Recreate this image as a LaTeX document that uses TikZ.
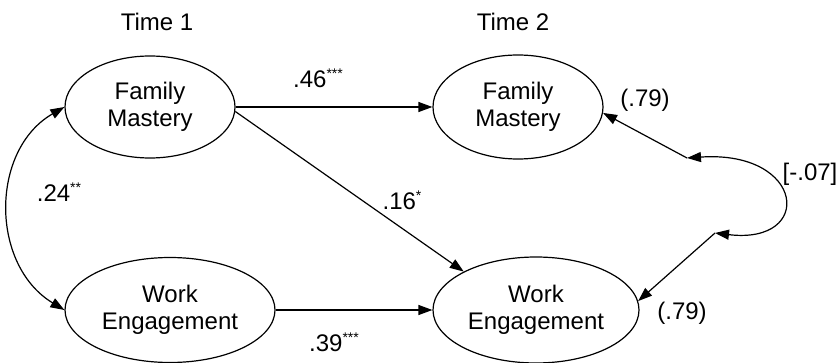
\documentclass[tikz,border=0pt]{standalone}
\usepackage{fontspec}
\setmainfont{Liberation Sans}
\usetikzlibrary{shapes.geometric,arrows.meta}
\newcommand{\sigstars}[1]{\raisebox{0.36em}{\fontsize{14}{14}\selectfont #1}}
\begin{document}
\begin{tikzpicture}[x=1pt,y=-1pt,
  latent/.style={draw,ellipse,line width=1.2pt,inner sep=0pt,align=center,font=\fontsize{24}{27}\selectfont},
  lbl/.style={inner sep=0pt,font=\fontsize{24}{27}\selectfont},
  path/.style={line width=1.2pt,-{Triangle[length=14pt,width=10pt]}},
  bipath/.style={line width=1.2pt,{Triangle[length=14pt,width=10pt]}-{Triangle[length=14pt,width=10pt]}}]
\useasboundingbox[fill=white] (0,0) rectangle (837,363);
\node[lbl] (t1) at (157,22) {Time 1};
\node[lbl] (t2) at (513,22) {Time 2};
\node[latent,minimum width=170pt,minimum height=102pt] (FM1) at (150,107) {Family\\Mastery};
\node[latent,minimum width=210pt,minimum height=105pt] (WE1) at (170,310) {Work\\Engagement};
\node[latent,minimum width=170pt,minimum height=104pt] (FM2) at (518,107) {Family\\Mastery};
\node[latent,minimum width=206pt,minimum height=106pt] (WE2) at (536,310) {Work\\Engagement};
\coordinate (P1) at (687,158);
\coordinate (P2) at (715,233);
\draw[path] (FM1.east) -- (FM2.west);
\draw[path] (WE1.east) -- (WE2.west);
\draw[path] (FM1.-3) -- (WE2.152);
\draw[bipath] (FM1.west) .. controls (-10,150) and (-10,265) .. (WE1.west);
\draw[path] (P1) -- (FM2.-4);
\draw[path] (P2) -- (WE2.5);
\draw[bipath] (P1) .. controls (805,150) and (815,245) .. (P2);
\node[lbl] (l46) at (318,78) {.46\sigstars{***}};
\node[lbl] (l16) at (402,200) {.16\sigstars{*}};
\node[lbl] (l39) at (334,342) {.39\sigstars{***}};
\node[lbl] (l24) at (59,192) {.24\sigstars{**}};
\node[lbl] (r1) at (645,100) {(.79)};
\node[lbl] (r2) at (682,313) {(.79)};
\node[lbl] (rc) at (810,174) {[-.07]};
\end{tikzpicture}
\end{document}
